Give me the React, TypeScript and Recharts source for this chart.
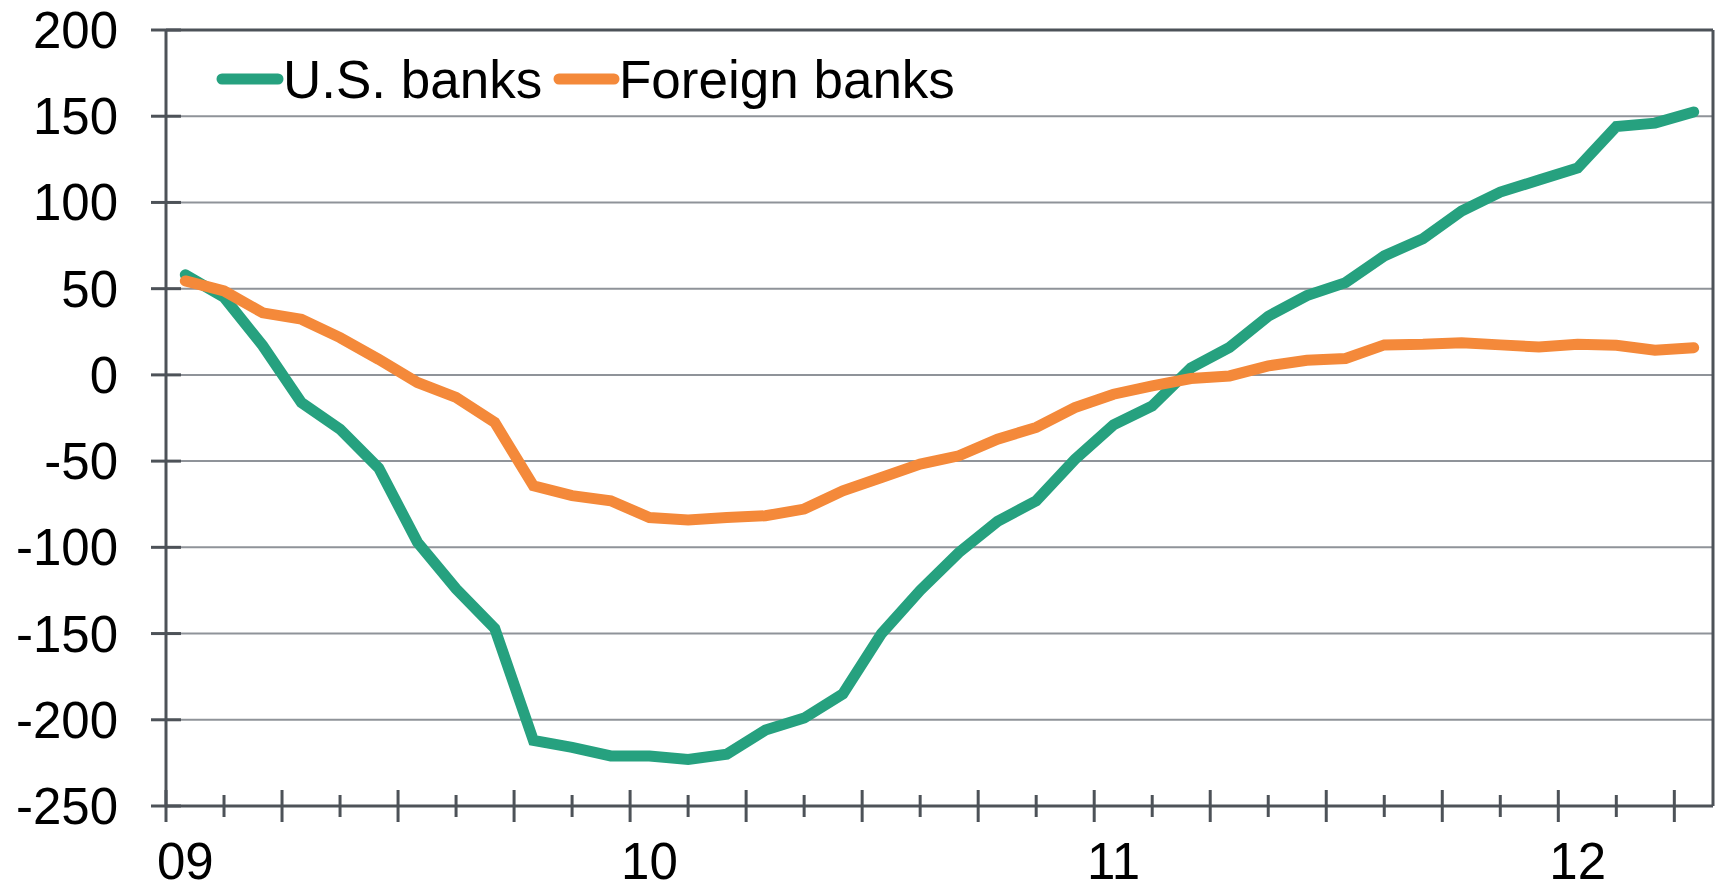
import React from 'react';
import { LineChart, Line, XAxis, YAxis, CartesianGrid, ReferenceLine } from 'recharts';

// monthly, Jan 2009 .. Apr 2012
const months = [
  '2009-01', '2009-02', '2009-03', '2009-04', '2009-05', '2009-06', '2009-07', '2009-08', '2009-09', '2009-10', '2009-11', '2009-12',
  '2010-01', '2010-02', '2010-03', '2010-04', '2010-05', '2010-06', '2010-07', '2010-08', '2010-09', '2010-10', '2010-11', '2010-12',
  '2011-01', '2011-02', '2011-03', '2011-04', '2011-05', '2011-06', '2011-07', '2011-08', '2011-09', '2011-10', '2011-11', '2011-12',
  '2012-01', '2012-02', '2012-03', '2012-04',
];

const usBanks = [
  58, 45, 17, -16, -31.5, -54, -97, -124, -147, -212, -216, -221,
  -221, -223, -220, -206, -199, -185, -150, -125, -103, -85, -73, -49,
  -29, -18, 4, 16, 34, 46, 53.5, 69, 79, 95, 106, 113,
  120, 144, 146, 152.5,
];

const foreignBanks = [
  54.5, 48.7, 36, 32.3, 21.6, 9, -4.4, -13, -27.6, -64.3, -70, -73,
  -82.7, -84.2, -82.7, -81.7, -77.8, -67.2, -59.5, -51.7, -46.9, -37.3, -30.5, -19,
  -11.2, -6.4, -2.1, -0.6, 5.2, 8.5, 9.5, 17.4, 17.8, 18.7, 17.4, 16.2,
  17.8, 17.2, 14.3, 15.8,
];

const yTicks = [-250, -200, -150, -100, -50, 0, 50, 100, 150, 200];
const yearLabels = ['09', '10', '11', '12'];
const yearIdx = [0, 12, 24, 36];

const series = [
  { key: 'us', name: 'U.S. banks', color: '#26a17f' },
  { key: 'foreign', name: 'Foreign banks', color: '#f4893a' },
];

const FONT = '"Liberation Sans", Arial, Helvetica, sans-serif';
const AXIS = '#4d5258';
const GRID = '#8f9399';
const LINE_W = 11;

const W = 1718;
const H = 886;

// tick marks every 1.5 months starting half a month before Jan 09
const markTicks = Array.from({ length: 27 }, (_, k) => -0.5 + 1.5 * k);

const data = months.map((m, i) => ({ idx: i, month: m, us: usBanks[i], foreign: foreignBanks[i] }));

function YTick({ x, y, payload }: any) {
  return (
    <g>
      <line x1={x - 15} x2={x + 15} y1={y} y2={y} stroke={AXIS} strokeWidth={3} />
      <text x={x - 48} y={y + 18} textAnchor="end" fontSize={51} fill="#000" fontFamily={FONT}>
        {payload.value}
      </text>
    </g>
  );
}

function XTick({ x, y, payload }: any) {
  const v = payload.value;
  const yi = yearIdx.indexOf(v);
  if (yi >= 0) {
    return (
      <text x={x} y={y + 73} textAnchor="middle" fontSize={51} fill="#000" fontFamily={FONT}>
        {yearLabels[yi]}
      </text>
    );
  }
  const k = Math.round((v + 0.5) / 1.5);
  const len = k % 2 === 0 ? 16 : 11;
  return <line x1={x} x2={x} y1={y - len} y2={y + len} stroke={AXIS} strokeWidth={3} />;
}

function LegendOverlay() {
  const items = [
    { ...series[0], x1: 222, x2: 278, tx: 283 },
    { ...series[1], x1: 559, x2: 614, tx: 619 },
  ];
  return (
    <svg width={W} height={H} style={{ position: 'absolute', left: 0, top: 0, pointerEvents: 'none' }}>
      {items.map((it) => (
        <g key={it.key}>
          <line x1={it.x1} x2={it.x2} y1={79} y2={79} stroke={it.color} strokeWidth={LINE_W} strokeLinecap="round" />
          <text x={it.tx} y={98} fontSize={53} fill="#000" fontFamily={FONT}>
            {it.name}
          </text>
        </g>
      ))}
    </svg>
  );
}

export default function App() {
  return (
    <div style={{ position: 'fixed', left: 0, top: 0, width: W, height: H, background: '#fff' }}>
      <LineChart width={W} height={H} data={data} margin={{ top: 30, right: 5, bottom: 0, left: 0 }}>
        <CartesianGrid stroke={GRID} strokeWidth={2} vertical={false} />
        <XAxis
          dataKey="idx"
          type="number"
          domain={[-0.5, 39.5]}
          ticks={[...markTicks, ...yearIdx]}
          interval={0}
          height={80}
          tickSize={0}
          tickMargin={0}
          tickLine={false}
          axisLine={{ stroke: AXIS, strokeWidth: 3 }}
          tick={<XTick />}
        />
        <YAxis
          type="number"
          domain={[-250, 200]}
          ticks={yTicks}
          interval={0}
          width={166}
          tickSize={0}
          tickMargin={0}
          tickLine={false}
          axisLine={{ stroke: AXIS, strokeWidth: 3 }}
          tick={<YTick />}
        />
        <ReferenceLine y={200} stroke={AXIS} strokeWidth={3} />
        <ReferenceLine x={39.5} stroke={AXIS} strokeWidth={3} />
        {series.map((s) => (
          <Line
            key={s.key}
            type="linear"
            dataKey={s.key}
            name={s.name}
            stroke={s.color}
            strokeWidth={LINE_W}
            strokeLinecap="round"
            dot={false}
            activeDot={false}
            isAnimationActive={false}
          />
        ))}
      </LineChart>
      <LegendOverlay />
    </div>
  );
}
